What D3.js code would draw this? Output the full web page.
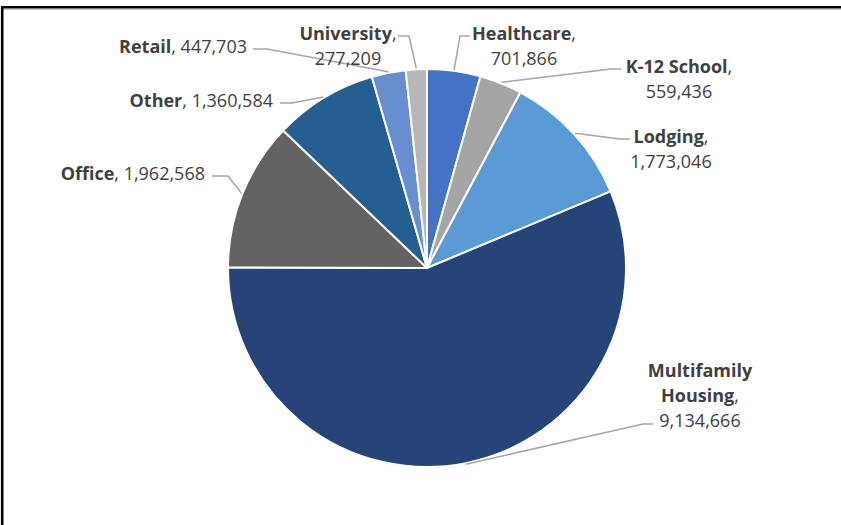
<!DOCTYPE html>
<html>
<head>
<meta charset="utf-8">
<script src="https://cdn.jsdelivr.net/npm/d3@7"></script>
<style>
  html, body { margin: 0; padding: 0; background: #fff; }
  svg { display: block; }
  text { font-family: "Open Sans", "Noto Sans", sans-serif; font-size: 18px; fill: #404040; }
</style>
</head>
<body>
<svg id="chart" width="841" height="525"></svg>
<script>
// ---- data ----
const categories = ["Healthcare", "K-12 School", "Lodging", "Multifamily Housing", "Office", "Other", "Retail", "University"];
const values = [701866, 559436, 1773046, 9134666, 1962568, 1360584, 447703, 277209];
const colors = ["#4472C4", "#A5A5A5", "#5B9BD5", "#264478", "#636363", "#255E91", "#698ED0", "#B7B7B7"];

// ---- layout (label placement) ----
const labelLayout = {
  "Healthcare":          { stacked: true,  nameLines: ["Healthcare"],            x: 524, y: 40,  anchor: "middle", leader: [[470, 36], [460, 36]] },
  "K-12 School":         { stacked: true,  nameLines: ["K-12 School"],           x: 679, y: 73,  anchor: "middle", leader: [[621, 69], [611, 69]] },
  "Lodging":             { stacked: true,  nameLines: ["Lodging"],               x: 671, y: 143, anchor: "middle", leader: [[630, 139], [620, 139]] },
  "Multifamily Housing": { stacked: true,  nameLines: ["Multifamily", "Housing"], x: 700, y: 377, anchor: "middle", leader: [[653, 424], [643, 424]] },
  "Office":              { stacked: false, nameLines: ["Office"],                x: 205, y: 180, anchor: "end",    leader: [[212, 176], [228, 176]] },
  "Other":               { stacked: false, nameLines: ["Other"],                 x: 273, y: 107, anchor: "end",    leader: [[280, 103], [292, 103]] },
  "Retail":              { stacked: false, nameLines: ["Retail"],                x: 247, y: 53,  anchor: "end",    leader: [[253, 49], [267, 49]] },
  "University":          { stacked: true,  nameLines: ["University"],            x: 348, y: 40,  anchor: "middle", leader: [[398, 36], [409, 36]] }
};

const cx = 427, cy = 268, radius = 199, lineH = 25;
const svg = d3.select("#chart");
const fmt = d3.format(",");

// frame
svg.append("line").attr("x1", 3).attr("x2", 841).attr("y1", 9.5).attr("y2", 9.5)
  .attr("stroke", "#c8c8c8").attr("stroke-width", 1);
svg.append("path").attr("d", "M2.2,525 L2.2,7.2 L841,7.2")
  .attr("fill", "none").attr("stroke", "#000").attr("stroke-width", 2.6);

const data = categories.map((c, i) => ({ category: c, value: values[i], color: colors[i] }));

const pie = d3.pie().sort(null).value(d => d.value);
const arcs = pie(data);
const arc = d3.arc().innerRadius(0).outerRadius(radius);
const edgeArc = d3.arc().innerRadius(radius + 1).outerRadius(radius + 1);

const g = svg.append("g").attr("transform", `translate(${cx},${cy})`);
g.selectAll("path.slice").data(arcs).join("path")
  .attr("class", "slice")
  .attr("d", arc)
  .attr("fill", d => d.data.color)
  .attr("stroke", "#fff")
  .attr("stroke-width", 2)
  .attr("stroke-linejoin", "round");

// leader lines
const leaders = svg.append("g");
arcs.forEach(a => {
  const L = labelLayout[a.data.category];
  const [ex, ey] = edgeArc.centroid(a);
  const pts = L.leader.concat([[cx + ex, cy + ey]]);
  leaders.append("path")
    .attr("d", d3.line()(pts))
    .attr("fill", "none")
    .attr("stroke", "#A6A6A6")
    .attr("stroke-width", 1.5);
});

// labels
const labels = svg.append("g");
arcs.forEach(a => {
  const L = labelLayout[a.data.category];
  const t = labels.append("text").attr("text-anchor", L.anchor);
  const valStr = fmt(a.data.value);
  if (L.stacked) {
    L.nameLines.forEach((nm, i) => {
      const last = i === L.nameLines.length - 1;
      t.append("tspan").attr("x", L.x).attr("y", L.y + i * lineH)
        .attr("font-weight", "bold").text(nm);
      if (last) t.append("tspan").text(",");
    });
    t.append("tspan").attr("x", L.x).attr("y", L.y + L.nameLines.length * lineH).text(valStr);
  } else {
    t.attr("x", L.x).attr("y", L.y);
    t.append("tspan").attr("font-weight", "bold").text(L.nameLines[0]);
    t.append("tspan").text(", " + valStr);
  }
});
</script>
</body>
</html>
